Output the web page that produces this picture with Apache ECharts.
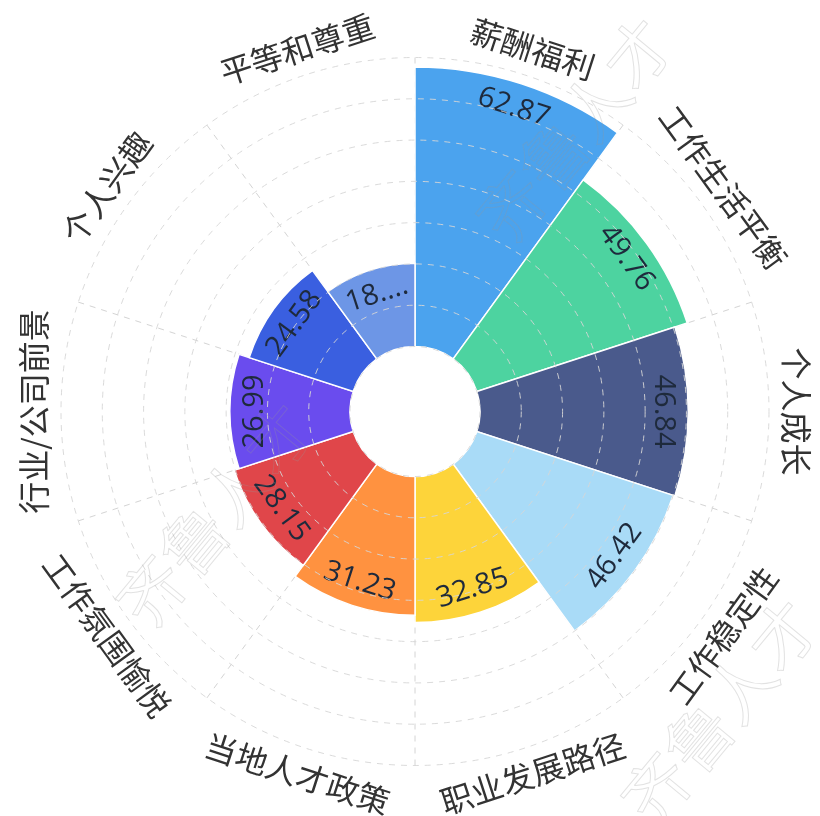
<!DOCTYPE html>
<html><head><meta charset="utf-8">
<script src="https://cdn.jsdelivr.net/npm/echarts@6/dist/echarts.min.js"></script>
<style>html,body{margin:0;padding:0;background:#fff}#c{width:820px;height:816px}</style>
</head><body><div id="c"></div>
<script>
const categories = ['薪酬福利','工作生活平衡','个人成长','工作稳定性','职业发展路径','当地人才政策','工作氛围愉悦','行业/公司前景','个人兴趣','平等和尊重'];
const values = [62.87, 49.76, 46.84, 46.42, 32.85, 31.23, 28.15, 26.99, 24.58, 18.72];
const colors = ['#4BA3EE','#4DD3A0','#4A5A8C','#A9DBF7','#FDD43A','#FF9240','#E0464A','#6A4CEE','#3A5FE0','#6D96E6'];
const radiusMax = 65;
const ringCount = 7;
const watermark = '齐鲁人才';

const FONT = "'Open Sans','Noto Sans CJK SC',sans-serif";
const CJK = "'Noto Sans CJK SC','Open Sans',sans-serif";
const R0 = 65, R1 = 354;
const chart = echarts.init(document.getElementById('c'), null, {renderer:'canvas'});

// readable tangential rotation (degrees, anticlockwise) for the centre of category i
function readableRot(i) {
  const n = categories.length;
  const mid = 90 - (i + 0.5) * 360 / n;
  let rot = mid - 90;
  while (rot <= -180) rot += 360;
  while (rot > 180) rot -= 360;
  if (Math.abs(rot) > 90.001) rot += rot > 0 ? -180 : 180;
  return rot;
}

const option = {
  animation: false,
  backgroundColor: '#fff',
  polar: { center: [415, 411.5], radius: [R0, R1] },
  angleAxis: {
    type: 'category', data: categories, startAngle: 90, clockwise: true,
    axisLine: { show: false }, axisTick: { show: false }, axisLabel: { show: false },
    splitLine: { show: true, interval: 0, lineStyle: { color: '#d4d4d4', type: [6, 6], width: 1 } },
    z: 1
  },
  radiusAxis: {
    type: 'value', min: 0, max: radiusMax, interval: radiusMax / ringCount,
    axisLine: { show: false }, axisTick: { show: false }, axisLabel: { show: false },
    splitLine: { show: true, lineStyle: { color: 'rgba(214,214,214,0.9)', type: [6, 6], width: 1 } },
    z: 5
  },
  series: [{
    type: 'bar', coordinateSystem: 'polar',
    data: values.map((v, i) => ({
      value: v,
      itemStyle: { color: colors[i] },
      // polar bar label rotation in radians, anticlockwise positive
      label: { rotate: readableRot(i) * Math.PI / 180, width: 0.86 * v / radiusMax * (R1 - R0) }
    })),
    barCategoryGap: '0%',
    itemStyle: { borderColor: '#fff', borderWidth: 1.5 },
    label: {
      show: true, position: 'insideEnd', distance: 25,
      align: 'center', verticalAlign: 'middle',
      overflow: 'truncate', ellipsis: '...',
      fontSize: 29, color: '#1e2a3c', fontFamily: FONT,
      formatter: p => p.value.toFixed(2)
    },
    z: 2
  }]
};
chart.setOption(option);

// outer category labels, placed through the polar coordinate system
const graphics = [];
categories.forEach((name, i) => {
  const p0 = chart.convertToPixel({ polarIndex: 0 }, [0, i]);
  const p1 = chart.convertToPixel({ polarIndex: 0 }, [radiusMax, i]);
  const dx = p1[0] - p0[0], dy = p1[1] - p0[1];
  const len = Math.hypot(dx, dy);
  const ux = dx / len, uy = dy / len;
  const off = 27;
  graphics.push({
    type: 'text', silent: true,
    x: p1[0] + ux * off, y: p1[1] + uy * off, rotation: readableRot(i) * Math.PI / 180,
    style: { text: name, font: "32px " + CJK, fill: '#333', textAlign: 'center', textVerticalAlign: 'middle', align: 'center', verticalAlign: 'middle' }
  });
});
// faint watermark
[[575, 130], [215, 515], [720, 712]].forEach(pt => {
  graphics.push({
    type: 'text', silent: true, x: pt[0], y: pt[1], rotation: 0.88, z: 100,
    style: { text: watermark, font: "66px " + CJK, fill: 'rgba(255,255,255,0)', stroke: 'rgba(150,150,150,0.28)', lineWidth: 1,
      textAlign: 'center', textVerticalAlign: 'middle', align: 'center', verticalAlign: 'middle' }
  });
});
chart.setOption({ graphic: graphics });
</script></body></html>
